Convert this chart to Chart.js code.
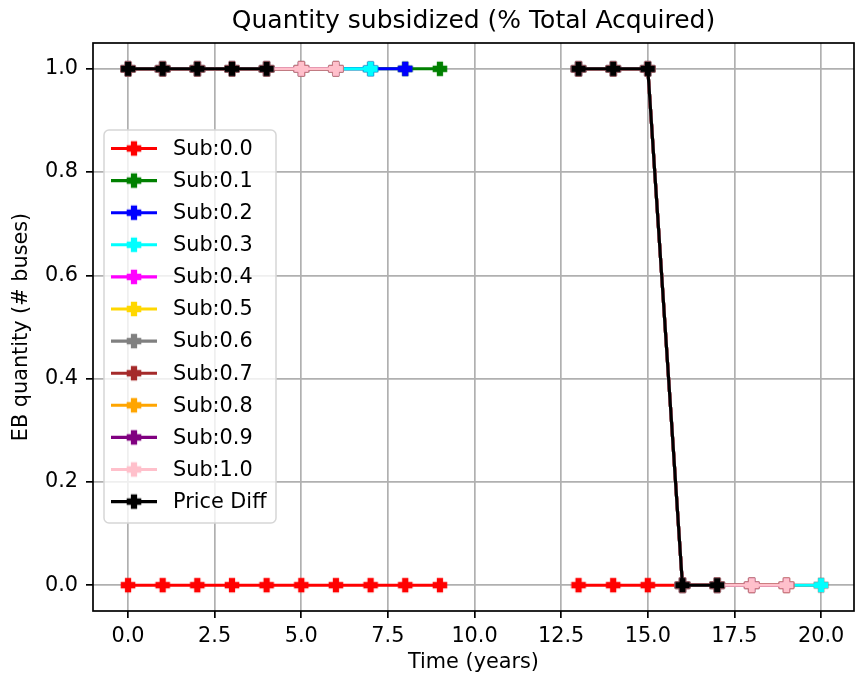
<!DOCTYPE html>
<html>
<head>
<meta charset="utf-8">
<script src="https://cdn.jsdelivr.net/npm/chart.js"></script>
<style>
    html, body { margin: 0; padding: 0; background: #fff; overflow: hidden; }
    #wrap { width: 855px; height: 681px; position: relative; }
    canvas { display: block; }
</style>
</head>
<body>
<div id="wrap"><canvas id="subChart"></canvas></div>
<script>
// years on the x axis
const years = [0, 1, 2, 3, 4, 5, 6, 7, 8, 9, 10, 11, 12, 13, 14, 15, 16, 17, 18, 19, 20];

// EB quantity per series (null = no value, line is broken)
const sub00 = [0, 0, 0, 0, 0, 0, 0, 0, 0, 0, null, null, null, 0, 0, 0, 0, 0, 0, 0, 0];
const sub01 = [1, 1, 1, 1, 1, 1, 1, 1, 1, 1, null, null, null, 1, 1, 1, 0, 0, null, null, null];
const sub02 = [1, 1, 1, 1, 1, 1, 1, 1, 1, null, null, null, null, 1, 1, 1, 0, 0, 0, null, null];
const sub03 = [1, 1, 1, 1, 1, 1, 1, 1, null, null, null, null, null, 1, 1, 1, 0, 0, 0, 0, 0];
const sub04 = [1, 1, 1, 1, 1, 1, 1, null, null, null, null, null, null, 1, 1, 1, 0, 0, 0, 0, null];
const sub05 = [1, 1, 1, 1, 1, 1, 1, null, null, null, null, null, null, 1, 1, 1, 0, 0, 0, 0, null];
const sub06 = [1, 1, 1, 1, 1, 1, 1, null, null, null, null, null, null, 1, 1, 1, 0, 0, 0, 0, null];
const sub07 = [1, 1, 1, 1, 1, 1, 1, null, null, null, null, null, null, 1, 1, 1, 0, 0, 0, 0, null];
const sub08 = [1, 1, 1, 1, 1, 1, 1, null, null, null, null, null, null, 1, 1, 1, 0, 0, 0, 0, null];
const sub09 = [1, 1, 1, 1, 1, 1, 1, null, null, null, null, null, null, 1, 1, 1, 0, 0, 0, 0, null];
const sub10 = [1, 1, 1, 1, 1, 1, 1, null, null, null, null, null, null, 1, 1, 1, 0, 0, 0, 0, null];
const priceDiff = [1, 1, 1, 1, 1, null, null, null, null, null, null, null, null, 1, 1, 1, 0, 0, null, null, null];

const seriesLabels = ['Sub:0.0', 'Sub:0.1', 'Sub:0.2', 'Sub:0.3', 'Sub:0.4', 'Sub:0.5',
    'Sub:0.6', 'Sub:0.7', 'Sub:0.8', 'Sub:0.9', 'Sub:1.0', 'Price Diff'];
const seriesValues = [sub00, sub01, sub02, sub03, sub04, sub05, sub06, sub07, sub08, sub09, sub10, priceDiff];
const seriesColors = ['#ff0000', '#008000', '#0000ff', '#00ffff', '#ff00ff', '#ffd700',
    '#808080', '#a52a2a', '#ffa500', '#800080', '#ffc0cb', '#000000'];

const xTickValues = [0, 2.5, 5, 7.5, 10, 12.5, 15, 17.5, 20];
const yTickValues = [0, 0.2, 0.4, 0.6, 0.8, 1.0];

const FONT = 'DejaVu Sans';

// filled plus marker like matplotlib 'P'
function plusMarker(color) {
    const c = document.createElement('canvas');
    c.width = 18;
    c.height = 18;
    const g = c.getContext('2d');
    const s = 12.5 / 6, o = 9;
    const pts = [[-1, -3], [1, -3], [1, -1], [3, -1], [3, 1], [1, 1], [1, 3], [-1, 3], [-1, 1], [-3, 1], [-3, -1], [-1, -1]];
    g.beginPath();
    pts.forEach((p, i) => {
        const x = o + p[0] * s, y = o + p[1] * s;
        if (i === 0) g.moveTo(x, y); else g.lineTo(x, y);
    });
    g.closePath();
    g.fillStyle = color;
    g.fill();
    g.strokeStyle = color;
    g.lineWidth = 2.1;
    g.lineJoin = 'miter';
    g.stroke();
    return c;
}

const markers = seriesColors.map(plusMarker);

const datasets = seriesLabels.map((label, i) => ({
    label: label,
    data: years.map((x, j) => ({ x: x, y: seriesValues[i][j] })),
    borderColor: seriesColors[i],
    backgroundColor: seriesColors[i],
    borderWidth: 3.1,
    pointStyle: markers[i],
    pointRadius: 8,
    spanGaps: false,
    tension: 0,
    order: seriesLabels.length - i
}));

const framePlugin = {
    id: 'frame',
    afterDatasetsDraw(chart) {
        const { ctx, chartArea: a } = chart;
        ctx.save();
        ctx.strokeStyle = '#000';
        ctx.lineWidth = 1.7;
        ctx.strokeRect(a.left, a.top, a.right - a.left, a.bottom - a.top);
        ctx.restore();
    }
};

const textPlugin = {
    id: 'texts',
    afterDraw(chart) {
        const { ctx, chartArea: a } = chart;
        const cx = (a.left + a.right) / 2;
        ctx.save();
        ctx.fillStyle = '#000';
        ctx.textAlign = 'center';
        ctx.textBaseline = 'middle';
        ctx.font = '25px "' + FONT + '"';
        ctx.fillText('Quantity subsidized (% Total Acquired)', cx, 21);
        ctx.font = '20.8px "' + FONT + '"';
        ctx.fillText('Time (years)', cx, 663);
        ctx.translate(22, (a.top + a.bottom) / 2);
        ctx.rotate(-Math.PI / 2);
        ctx.fillText('EB quantity (# buses)', 0, 0);
        ctx.restore();
    }
};

const legendPlugin = {
    id: 'boxLegend',
    afterDraw(chart) {
        const ctx = chart.ctx;
        const left = 104, top = 130, w = 172, h = 393, r = 5;
        ctx.save();
        ctx.beginPath();
        ctx.roundRect(left, top, w, h, r);
        ctx.fillStyle = 'rgba(255,255,255,0.8)';
        ctx.fill();
        ctx.strokeStyle = '#d6d6d6';
        ctx.lineWidth = 1.5;
        ctx.stroke();
        ctx.font = '20.8px "' + FONT + '"';
        ctx.textBaseline = 'middle';
        ctx.textAlign = 'left';
        seriesLabels.forEach((label, i) => {
            const y = 148.5 + i * 32.1;
            ctx.beginPath();
            ctx.moveTo(111, y);
            ctx.lineTo(157, y);
            ctx.strokeStyle = seriesColors[i];
            ctx.lineWidth = 3.1;
            ctx.stroke();
            ctx.drawImage(markers[i], 134 - 9, y - 9);
            ctx.fillStyle = '#000';
            ctx.fillText(label, 173, y + 1);
        });
        ctx.restore();
    }
};

const ctx = document.getElementById('subChart').getContext('2d');
window.subChart = new Chart(ctx, {
    type: 'line',
    data: { datasets: datasets },
    plugins: [framePlugin, textPlugin, legendPlugin],
    options: {
        responsive: true,
        maintainAspectRatio: false,
        animation: false,
        events: [],
        layout: { autoPadding: false, padding: { top: 43, right: 1, left: 0, bottom: 0 } },
        plugins: {
            legend: { display: false },
            title: { display: false },
            tooltip: { enabled: false }
        },
        scales: {
            x: {
                type: 'linear',
                min: -1.01,
                max: 20.95,
                afterFit: scale => {
                    scale.height = 70;
                    scale.paddingLeft = 0;
                    scale.paddingRight = 0;
                },
                afterBuildTicks: scale => { scale.ticks = xTickValues.map(v => ({ value: v })); },
                border: { display: false },
                grid: { color: '#b0b0b0', lineWidth: 1.7, tickColor: '#000', tickLength: 7 },
                ticks: {
                    color: '#000',
                    font: { family: FONT, size: 20.8 },
                    padding: 6,
                    maxRotation: 0,
                    autoSkip: false,
                    callback: v => v.toFixed(1)
                }
            },
            y: {
                min: -0.05,
                max: 1.05,
                afterFit: scale => {
                    scale.width = 93;
                    scale.paddingTop = 0;
                    scale.paddingBottom = 0;
                },
                afterBuildTicks: scale => { scale.ticks = yTickValues.map(v => ({ value: v })); },
                border: { display: false },
                grid: { color: '#b0b0b0', lineWidth: 1.7, tickColor: '#000', tickLength: 7 },
                ticks: {
                    color: '#000',
                    font: { family: FONT, size: 20.8 },
                    padding: 8,
                    autoSkip: false,
                    callback: v => v.toFixed(1)
                }
            }
        }
    }
});
</script>
</body>
</html>
